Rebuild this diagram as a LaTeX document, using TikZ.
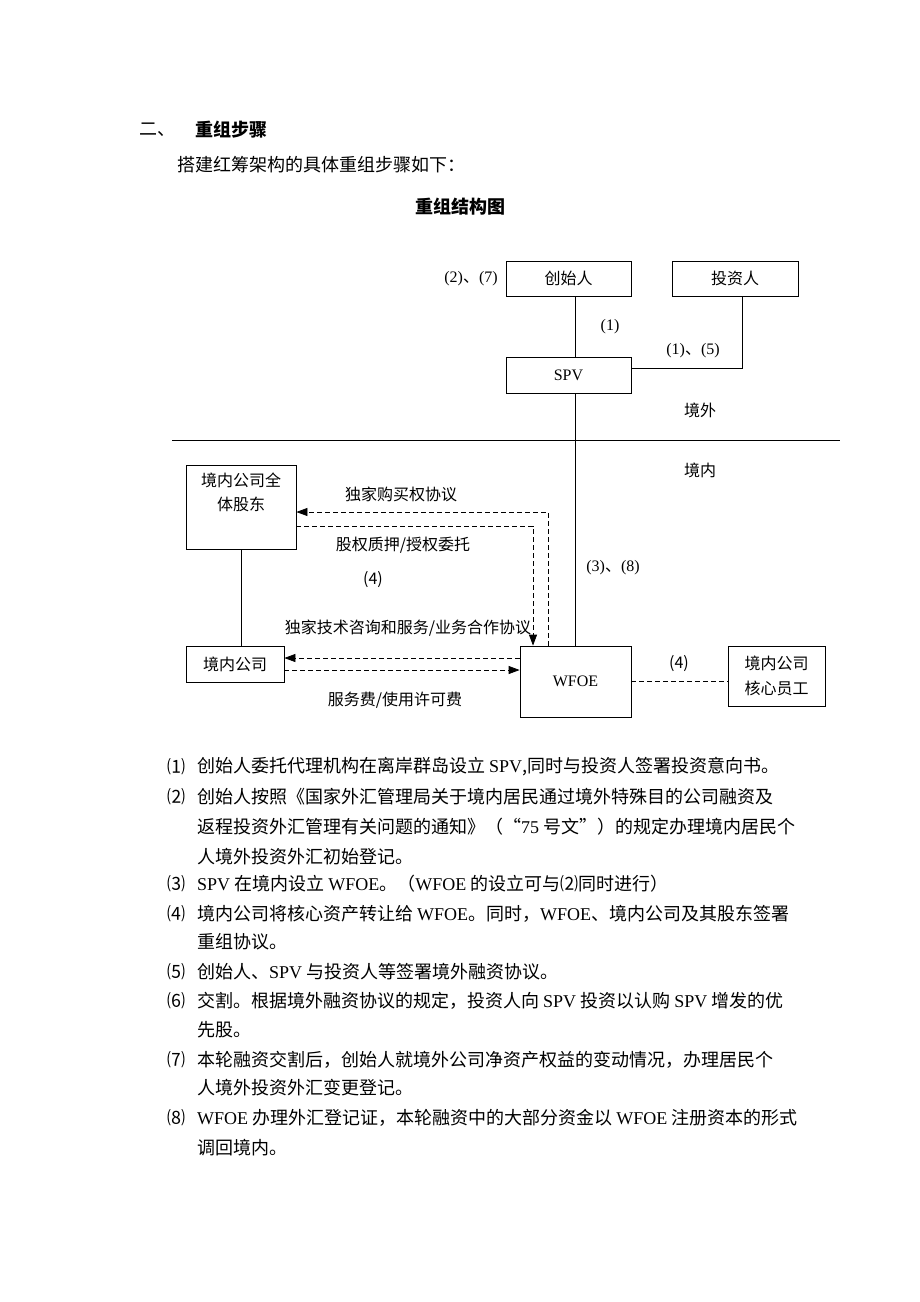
\documentclass[tikz,border=0pt]{standalone}
\usepackage{fontspec}
\setmainfont{Noto Sans CJK SC}
\newfontfamily\lat{Liberation Serif}
\usepackage{tikz}
\usetikzlibrary{positioning,arrows.meta}
\tikzset{box/.style={draw,line width=0.8pt,inner sep=0pt,align=center,font=\fontsize{16}{24}\selectfont}}
\tikzset{lbl/.style={inner sep=0pt,font=\fontsize{16}{18}\selectfont}}
\tikzset{txt/.style={anchor=west,inner sep=0pt,font=\fontsize{18}{20}\selectfont}}
\tikzset{num/.style={inner sep=0pt,font=\fontsize{18}{20}\selectfont}}
\tikzset{dsh/.style={line width=0.8pt,dash pattern=on 5pt off 3pt}}

\begin{document}
\begin{tikzpicture}[x=1pt,y=-1pt,>={Stealth[length=11pt,width=8pt,inset=0pt]}]
    \useasboundingbox[fill=white] (0,0) rectangle (920,1302);

    \node[txt] (h1) at (139,130) {二、};
    \node[txt,font=\bfseries\fontsize{18}{20}\selectfont] (h2) at (195,130) {重组步骤};
    \node[txt] (h3) at (177,165) {搭建红筹架构的具体重组步骤如下：};
    \node[num,font=\bfseries\fontsize{18}{20}\selectfont] (title) at (460,207) {重组结构图};

    \node[box,minimum width=125,minimum height=35] (fd) at (568.5,278.5) {创始人};
    \node[box,minimum width=126,minimum height=35] (inv) at (735,278.5) {投资人};
    \node[box,minimum width=125,minimum height=36] (spv) at (568.5,375) {\lat SPV};
    \node[box,minimum width=110,minimum height=84] (sh) at (241,507) {境内公司全\\体股东\\\strut};
    \node[box,minimum width=98,minimum height=36] (dc) at (235,664) {境内公司};
    \node[box,minimum width=111,minimum height=71] (wf) at (575.5,681.5) {\lat WFOE};
    \node[box,minimum width=97,minimum height=60,font=\fontsize{16}{25}\selectfont] (emp) at (776.5,676) {境内公司\\核心员工};

    \coordinate (sepl) at (172,440);
    \coordinate (sepr) at (840,440);
    \draw [line width=0.8pt] (sepl) -- (sepr);

    \draw [line width=0.8pt] (fd.south -| wf.north) -- (spv.north -| wf.north);
    \draw [line width=0.8pt] (spv.south -| wf.north) -- (wf.north);
    \draw [line width=0.8pt] ([xshift=7pt]inv.south) |- ([yshift=7pt]spv.east);
    \draw [line width=0.8pt] (sh.south) -- (sh.south |- dc.north);

    \draw [dsh,->] ([xshift=-27.5pt]wf.north) |- ([yshift=-5pt]sh.east);
    \draw [dsh,->] ([yshift=-19pt]sh.east) -| ([xshift=-42.5pt]wf.north);
    \draw [dsh,->] ([yshift=23.5pt]wf.west) -- ([yshift=23.5pt]wf.west -| dc.east);
    \draw [dsh,->] ([yshift=-6pt]dc.east) -- ([yshift=-6pt]dc.east -| wf.west);
    \draw [dsh] (wf.east) -- (wf.east -| emp.west);

    \node[lbl] (l27) at (471,279) {{\lat (2)}、{\lat (7)}};
    \node[lbl] (l1) at (610,327) {\lat (1)};
    \node[lbl] (l15) at (693,351) {{\lat (1)}、{\lat (5)}};
    \node[lbl] (out) at (700,410) {境外};
    \node[lbl] (in) at (700,470) {境内};
    \node[lbl] (l38) at (613,568) {{\lat (3)}、{\lat (8)}};
    \node[lbl] (buy) at (401,494) {独家购买权协议};
    \node[lbl] (pledge) at (403,545) {股权质押/授权委托};
    \node[lbl] (l4a) at (373,580) {(4)};
    \node[lbl] (tech) at (408,628) {独家技术咨询和服务/业务合作协议};
    \node[lbl] (fee) at (395,700) {服务费/使用许可费};
    \node[lbl] (l4b) at (679,664) {(4)};

    \node[num] (n1) at (176,767) {⑴};
    \node[txt] (t1) at (197,767) {创始人委托代理机构在离岸群岛设立 {\lat SPV},同时与投资人签署投资意向书。};
    \node[num] (n2) at (176,797) {⑵};
    \node[txt] (t2) at (197,797) {创始人按照《国家外汇管理局关于境内居民通过境外特殊目的公司融资及};
    \node[txt] (t2b) at (197,827) {返程投资外汇管理有关问题的通知》（“{\lat 75} 号文”）的规定办理境内居民个};
    \node[txt] (t2c) at (197,857) {人境外投资外汇初始登记。};
    \node[num] (n3) at (176,884) {⑶};
    \node[txt] (t3) at (197,884) {{\lat SPV} 在境内设立 {\lat WFOE}。（{\lat WFOE} 的设立可与⑵同时进行）};
    \node[num] (n4) at (176,914) {⑷};
    \node[txt] (t4) at (197,914) {境内公司将核心资产转让给 {\lat WFOE}。同时，{\lat WFOE}、境内公司及其股东签署};
    \node[txt] (t4b) at (197,942) {重组协议。};
    \node[num] (n5) at (176,972) {⑸};
    \node[txt] (t5) at (197,972) {创始人、{\lat SPV} 与投资人等签署境外融资协议。};
    \node[num] (n6) at (176,1001) {⑹};
    \node[txt] (t6) at (197,1001) {交割。根据境外融资协议的规定，投资人向 {\lat SPV} 投资以认购 {\lat SPV} 增发的优};
    \node[txt] (t6b) at (197,1030) {先股。};
    \node[num] (n7) at (176,1060) {⑺};
    \node[txt] (t7) at (197,1060) {本轮融资交割后，创始人就境外公司净资产权益的变动情况，办理居民个};
    \node[txt] (t7b) at (197,1088) {人境外投资外汇变更登记。};
    \node[num] (n8) at (176,1118) {⑻};
    \node[txt] (t8) at (197,1118) {{\lat WFOE} 办理外汇登记证，本轮融资中的大部分资金以 {\lat WFOE} 注册资本的形式};
    \node[txt] (t8b) at (197,1148) {调回境内。};
\end{tikzpicture}
\end{document}
